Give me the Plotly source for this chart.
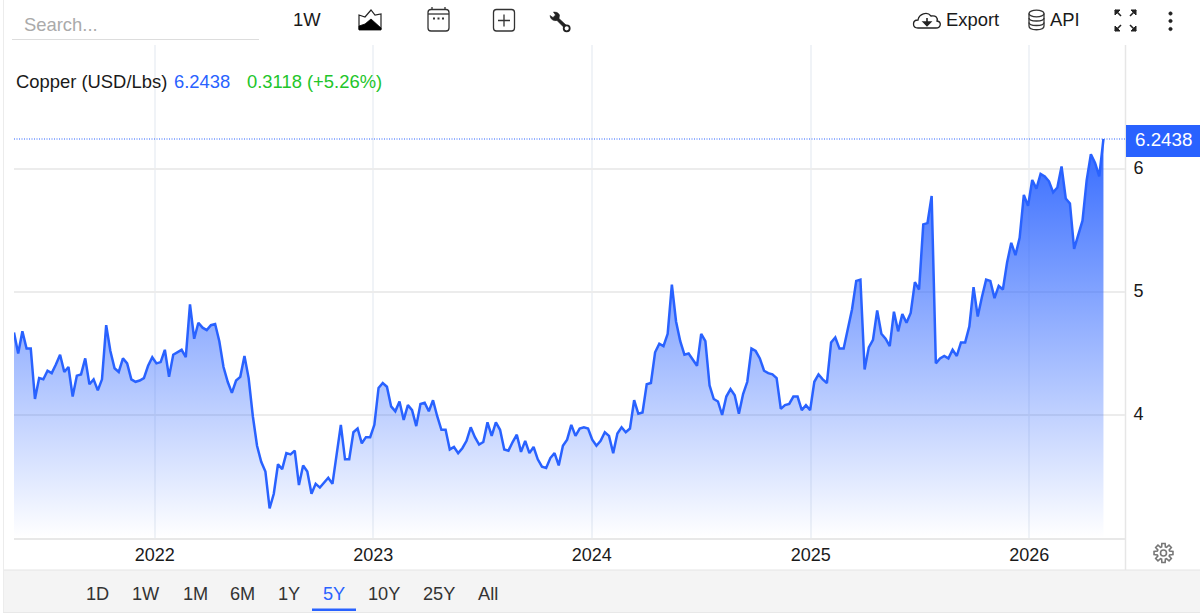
import re
import math
import pandas as pd
import plotly.graph_objects as go

# ---- data ----
values_2021_2023 = [
    4.67, 4.50, 4.68, 4.54, 4.54, 4.13, 4.30, 4.29, 4.36, 4.34, 4.41, 4.49, 4.35, 4.39, 4.15, 4.32,
    4.33, 4.46, 4.25, 4.29, 4.20, 4.29, 4.73, 4.52, 4.38, 4.35, 4.46, 4.42, 4.29, 4.27, 4.28, 4.30,
    4.40, 4.47, 4.42, 4.43, 4.53, 4.31, 4.49, 4.51, 4.53, 4.47, 4.90, 4.62, 4.75, 4.71, 4.69, 4.73,
    4.74, 4.60, 4.39, 4.27, 4.18, 4.28, 4.31, 4.48, 4.30, 3.99, 3.75, 3.62, 3.54, 3.24, 3.36, 3.60,
    3.56, 3.69, 3.68, 3.71, 3.43, 3.59, 3.54, 3.36, 3.44, 3.41, 3.45, 3.49, 3.44, 3.69, 3.92, 3.64,
    3.64, 3.86, 3.89, 3.77, 3.82, 3.82, 3.92, 4.22, 4.26, 4.23, 4.07, 4.03, 4.11,
]
values_2023_2024 = [
    3.96, 4.08, 4.04, 3.91, 4.09, 4.10, 4.03, 4.12, 3.99, 3.88, 3.88, 3.72, 3.74, 3.69, 3.73, 3.79,
    3.90, 3.82, 3.76, 3.78, 3.94, 3.83, 3.94, 3.88, 3.72, 3.71, 3.78, 3.84, 3.70, 3.79, 3.69, 3.74,
    3.64, 3.58, 3.57, 3.65, 3.69, 3.59, 3.75, 3.80, 3.92, 3.83, 3.89, 3.90, 3.89, 3.80, 3.75, 3.79,
    3.86, 3.83, 3.69, 3.85, 3.90, 3.86, 3.89, 4.12, 4.01, 4.02, 4.25, 4.26, 4.51, 4.58, 4.56, 4.66,
    5.06, 4.76, 4.60, 4.49, 4.50, 4.45, 4.40, 4.66, 4.60, 4.24, 4.13, 4.11, 4.00, 4.15, 4.21, 4.16,
    4.01, 4.17, 4.27, 4.54, 4.52, 4.46, 4.36, 4.34, 4.33, 4.30, 4.05, 4.08, 4.09, 4.15, 4.15,
]
values_2024_2026 = [
    4.04, 4.08, 4.04, 4.27, 4.33, 4.29, 4.26, 4.59, 4.63, 4.54, 4.54, 4.69, 4.86, 5.09, 5.10, 4.37,
    4.55, 4.61, 4.85, 4.66, 4.62, 4.56, 4.84, 4.68, 4.82, 4.75, 4.83, 5.08, 5.02, 5.55, 5.56, 5.78,
    4.42, 4.46, 4.48, 4.46, 4.53, 4.48, 4.59, 4.59, 4.72, 5.04, 4.80, 4.96, 5.10, 5.09, 4.95, 5.05,
    5.02, 5.24, 5.40, 5.30, 5.44, 5.79, 5.70, 5.91, 5.84, 5.96, 5.94, 5.90, 5.81, 5.85, 6.02, 5.76,
    5.72, 5.35, 5.47, 5.58, 5.91, 6.12, 6.05, 5.94, 6.2438,
]
prices = values_2021_2023 + values_2023_2024 + values_2024_2026
last_date = "2026-05-05"
x_range = ["2021-05-11", "2026-06-10"]
y_range = [3.0, 7.008]
y_ticks = [4, 5, 6]
range_buttons = ["1D", "1W", "1M", "6M", "1Y", "5Y", "10Y", "25Y", "All"]
button_centers = [97.5, 146, 195, 242, 289, 334, 384, 439, 488]
series_name = "Copper (USD/Lbs)"
last_price = "6.2438"
change_text = "0.3118 (+5.26%)"

W, H = 1200, 616
BLUE = "#2962ff"
INK = "#1a1a1a"
dates = pd.date_range(end=last_date, periods=len(prices), freq="7D")


def px(x):
    return x / W


def py(y):
    return 1 - y / H


def path(d):
    """Pixel-space SVG path -> paper-space SVG path."""
    toks = re.findall(r"[A-Za-z]|-?\d+\.?\d*", d)
    out, is_x = [], True
    for t in toks:
        if t.isalpha():
            out.append(t)
            is_x = True
        else:
            v = float(t)
            out.append(f"{px(v):.5f}" if is_x else f"{py(v):.5f}")
            is_x = not is_x
    return " ".join(out)


shapes = []


def add_path(d, stroke="#222", width=1.3, fill=None):
    shapes.append(dict(type="path", xref="paper", yref="paper", path=path(d),
                       line=dict(color=stroke, width=width),
                       fillcolor=fill if fill else "rgba(0,0,0,0)", layer="above"))


def add_rect(x0, y0, x1, y1, fill, line=None, layer="below"):
    shapes.append(dict(type="rect", xref="paper", yref="paper", x0=px(x0), x1=px(x1), y0=py(y0), y1=py(y1),
                       fillcolor=fill, line=dict(width=0 if not line else 1, color=line or fill), layer=layer))


def rrect(x0, y0, x1, y1, r):
    return (f"M {x0+r} {y0} L {x1-r} {y0} Q {x1} {y0} {x1} {y0+r} L {x1} {y1-r} Q {x1} {y1} {x1-r} {y1} "
            f"L {x0+r} {y1} Q {x0} {y1} {x0} {y1-r} L {x0} {y0+r} Q {x0} {y0} {x0+r} {y0} Z")


def circle(cx, cy, r, sy=1.0):
    k = 0.5523 * r
    ky = k * sy
    ry = r * sy
    return (f"M {cx-r} {cy} C {cx-r} {cy-ky} {cx-k} {cy-ry} {cx} {cy-ry} C {cx+k} {cy-ry} {cx+r} {cy-ky} {cx+r} {cy} "
            f"C {cx+r} {cy+ky} {cx+k} {cy+ry} {cx} {cy+ry} C {cx-k} {cy+ry} {cx-r} {cy+ky} {cx-r} {cy} Z")


# --- page chrome ---
add_rect(3, 570, 1200, 612, "#f4f4f4")
shapes.append(dict(type="line", xref="paper", yref="paper", x0=px(3), x1=px(1200), y0=py(570), y1=py(570),
                   line=dict(color="#e4e4e4", width=1), layer="below"))
shapes.append(dict(type="line", xref="paper", yref="paper", x0=px(3), x1=px(1200), y0=py(612.5), y1=py(612.5),
                   line=dict(color="#e8e8e8", width=1), layer="below"))
shapes.append(dict(type="line", xref="paper", yref="paper", x0=px(3.5), x1=px(3.5), y0=py(0), y1=py(612),
                   line=dict(color="#ececec", width=1), layer="below"))
shapes.append(dict(type="line", xref="paper", yref="paper", x0=px(1125.5), x1=px(1125.5), y0=py(45), y1=py(570),
                   line=dict(color="#e6e6e6", width=1.5), layer="below"))
shapes.append(dict(type="line", xref="paper", yref="paper", x0=px(12), x1=px(259), y0=py(39.5), y1=py(39.5),
                   line=dict(color="#dddddd", width=1), layer="below"))
add_rect(312, 608.5, 356, 611, BLUE, layer="above")

# --- toolbar icons ---
# area chart
add_path("M 359 15 L 365 17 L 371 10 L 375 15 L 381 14 L 381 29 L 359 29 Z", width=1.2)
add_path("M 359 30 L 359 26 L 365 24 L 371 19 L 381 28 L 381 30 Z", stroke="#000", width=0.8, fill="#000")
# calendar
add_path(rrect(428, 9.5, 449, 31, 3), stroke="#333")
add_path("M 428 14 L 449 14", stroke="#333")
add_path("M 432 7 L 432 10 M 445 7 L 445 10", stroke="#333")
add_path("M 433 18.5 L 435 18.5 M 437.5 18.5 L 439.5 18.5 M 442 18.5 L 444 18.5", stroke="#333", width=1.8)
# crosshair box
add_path(rrect(493.5, 9.5, 514.5, 31, 3), stroke="#333")
add_path("M 504 14.5 L 504 26.5 M 498 20.5 L 510 20.5", stroke="#333")
# wrench
add_path("M 550 15.5 L 553 17.5 L 555.5 15 L 553.5 12 Q 558 11.5 559.5 15 L 559 18.5 L 566 25 L 564 27.5 L 557 20.5 "
         "Q 551 21.5 550 15.5 Z", stroke="#222", width=0.6, fill="#222")
add_path(circle(566.7, 28.3, 3), stroke="#222", width=1.8)
# cloud
add_path("M 918 28 C 912 28 912 20 918 20 C 919 14 927 11 931 16 C 936 15 938 18 937 21 C 942 22 941 28 936 28 Z",
         stroke="#222", width=1.3)
add_path("M 927 18 L 927 24 M 923.5 22 L 927 25.5 L 930.5 22 Z", stroke="#222", width=1.6, fill="#222")
# database
add_path(circle(1036.5, 13.5, 7.5, 0.45), stroke="#333", width=1.3)
add_path("M 1029 13.5 L 1029 26 C 1029 31 1044 31 1044 26 L 1044 13.5", stroke="#333", width=1.3)
add_path("M 1029 18 C 1029 22 1044 22 1044 18 M 1029 22.5 C 1029 26.5 1044 26.5 1044 22.5", stroke="#333", width=1.3)
# expand
for ax, ay, sx, sy in ((1115, 10, 1, 1), (1136, 10, -1, 1), (1115, 31, 1, -1), (1136, 31, -1, -1)):
    add_path(f"M {ax} {ay} L {ax+5*sx} {ay} L {ax} {ay+5*sy} Z", stroke="#222", width=1, fill="#222")
    add_path(f"M {ax} {ay} L {ax+6*sx} {ay+6*sy}", stroke="#222", width=1.6)
# kebab
for cy in (13.5, 21, 29):
    add_path(circle(1170.5, cy, 1.7), stroke="#222", width=0.6, fill="#222")
# gear
teeth = 8
pts = []
for i in range(teeth):
    a = 2 * math.pi * i / teeth - math.pi / 2
    for da, r in ((-0.30, 6.4), (-0.17, 9.6), (0.17, 9.6), (0.30, 6.4)):
        pts.append((1163.5 + r * math.cos(a + da), 553 + r * math.sin(a + da)))
add_path("M " + " L ".join(f"{x:.2f} {y:.2f}" for x, y in pts) + " Z", stroke="#777", width=1.6)
add_path(circle(1163.5, 553, 3), stroke="#777", width=1.6)

# --- data-bound price guide ---
shapes.append(dict(type="line", xref="paper", yref="y", x0=px(14), x1=px(1125), y0=prices[-1], y1=prices[-1],
                   line=dict(color=BLUE, width=1, dash="1px,1.5px"), layer="above"))
add_rect(1126, 125, 1200, 157, BLUE, layer="above")

FONT = "Liberation Sans, Arial, sans-serif"
annotations = []


def text(x, y, s, size=18.4, color=INK, anchor="left"):
    annotations.append(dict(xref="paper", yref="paper", x=px(x), y=py(y), text=s, showarrow=False,
                            xanchor=anchor, yanchor="middle",
                            font=dict(family=FONT, size=size, color=color)))


text(22, 24, "Search...", 18.4, "#aaaaaa")
text(291, 20, "1W", 18.4, INK)
text(944, 20, "Export", 18.4, INK)
text(1048, 20, "API", 18.4, INK)
text(14, 82, series_name, 18.4, INK)
text(172, 82, last_price, 18.4, BLUE)
text(245, 82, change_text, 18.4, "#22c52a")
for lbl, cx in zip(range_buttons, button_centers):
    text(cx, 594, lbl, 18.2, BLUE if lbl == "5Y" else "#333", anchor="center")
annotations.append(dict(xref="paper", yref="y", x=px(1163.5), y=prices[-1], text=last_price, showarrow=False,
                        xanchor="center", yanchor="middle", font=dict(family=FONT, size=18.8, color="#ffffff")))

fig = go.Figure()
fig.add_trace(go.Scatter(
    x=dates, y=prices, mode="lines", fill="tozeroy",
    line=dict(color=BLUE, width=2.5, shape="linear"),
    fillgradient=dict(type="vertical", start=y_range[0], stop=prices[-1],
                      colorscale=[[0, "rgba(41,98,255,0)"], [1, "rgba(41,98,255,0.95)"]]),
    hoverinfo="skip", showlegend=False,
))
fig.update_layout(
    width=W, height=H, autosize=False,
    margin=dict(l=0, r=0, t=0, b=0, pad=0),
    paper_bgcolor="#ffffff", plot_bgcolor="#ffffff",
    shapes=shapes, annotations=annotations, hovermode=False,
    font=dict(family=FONT, color=INK),
    xaxis=dict(
        domain=[px(14), px(1125)], range=x_range, type="date",
        dtick="M12", tick0="2022-01-01", tickformat="%Y",
        showgrid=True, gridcolor="#f0f3f7", gridwidth=1.5,
        showline=True, linecolor="#e8e8e8", linewidth=1.5,
        ticks="", ticklabelstandoff=0,
        tickfont=dict(family=FONT, size=18, color=INK), fixedrange=True, zeroline=False,
    ),
    yaxis=dict(
        domain=[py(538), py(45)], range=y_range, side="right",
        tickvals=y_ticks, ticktext=[str(v) for v in y_ticks],
        showgrid=True, gridcolor="#ececec", gridwidth=1.5, zeroline=False, showline=False,
        ticks="outside", ticklen=4, tickcolor="rgba(0,0,0,0)", ticklabelshift=-1,
        tickfont=dict(family=FONT, size=18, color=INK), fixedrange=True,
    ),
)
fig.write_html("out.html", config=dict(displayModeBar=False),
               post_script="document.body.style.margin='0';document.body.style.overflow='hidden';")
